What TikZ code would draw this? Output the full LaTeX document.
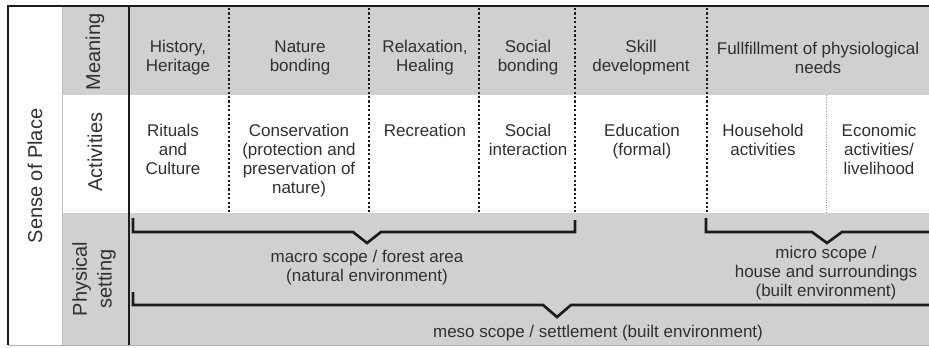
\documentclass[tikz,border=0pt]{standalone}
\usepackage{fontspec}
\setmainfont{Liberation Sans}
\definecolor{cellgray}{RGB}{208,208,208}
\definecolor{inkgray}{RGB}{48,48,48}
\definecolor{rulegray}{RGB}{28,28,28}
\tikzset{every picture/.style={line width=0.75pt}}
\tikzset{
  lbl/.style={inner sep=0.75pt, align=center, text=inkgray, font=\fontsize{12.75}{14.25}\selectfont},
  sidelbl/.style={lbl, rotate=90, font=\fontsize{15}{18.5}\selectfont},
  sepline/.style={draw=rulegray, line width=2pt, dash pattern={on 1.6pt off 1.7pt}},
  scopeline/.style={draw=rulegray, line width=2pt},
}
\begin{document}
\begin{tikzpicture}[x=0.75pt,y=0.75pt,yscale=-1,xscale=1]
\useasboundingbox (0,0) rectangle (929,347);

%Shape: Rows (gray bands)
\fill [cellgray] (62,6) rectangle (929,95);
\fill [cellgray] (62,213) rectangle (929,345);
\draw [color=gray!50, line width=0.4pt] (62,6) -- (62,345);
\draw [color=gray!60, line width=0.6pt] (8,345.5) -- (929,345.5);

%Shape: Frame
\draw [color=rulegray, line width=2pt] (8,345) -- (8,6) -- (929,6);
\draw [color=rulegray, line width=1.6pt] (129,6) -- (129,345);

%Dotted separators
\foreach \x in {229,369,479,575,707}
  \draw [sepline] (\x,8) -- (\x,212);
\draw [color=gray!70, line width=0.5pt, dash pattern={on 0.75pt off 1pt}] (826,95) -- (826,213);

%Scope brackets
\draw [scopeline] (133,218) -- (133,232) -- (353,232) -- (367,243) -- (381,232) -- (575,232) -- (575,220);
\draw [scopeline] (706,218) -- (706,232) -- (812,232) -- (827,243) -- (842,232) -- (929,232);
\draw [scopeline] (133,292) -- (133,305) -- (543,305) -- (557,317) -- (571,305) -- (929,305);

% Side labels
\node [sidelbl] (sense) at (35,176) {Sense of Place};
\node [sidelbl] (meaning) at (95,52) {Meaning};
\node [sidelbl] (activities) at (95,152) {Activities};
\node [sidelbl] (physical) at (94,279) {Physical\\setting};

% Meaning row
\node [lbl] (history) at (178,58) {History,\\Heritage};
\node [lbl] (nature) at (300,58) {Nature\\bonding};
\node [lbl] (relax) at (425,58) {Relaxation,\\Healing};
\node [lbl] (socialb) at (528,58) {Social\\bonding};
\node [lbl] (skill) at (641,58) {Skill\\development};
\node [lbl] (needs) at (818,58) {Fullfillment of physiological\\needs};

% Activities row
\node [lbl, anchor=north] (rituals) at (173,123) {Rituals\\and\\Culture};
\node [lbl, anchor=north] (conserv) at (299,123) {Conservation\\(protection and\\preservation of\\nature)};
\node [lbl, anchor=north] (recreation) at (425,123) {Recreation};
\node [lbl, anchor=north] (socialint) at (528,123) {Social\\interaction};
\node [lbl, anchor=north] (education) at (642,123) {Education\\(formal)};
\node [lbl, anchor=north] (household) at (763,123) {Household\\activities};
\node [lbl, anchor=north] (economic) at (879,123) {Economic\\activities/\\livelihood};

% Physical setting row
\node [lbl] (macro) at (367,268) {macro scope / forest area\\(natural environment)};
\node [lbl] (micro) at (826,273) {micro scope /\\house and surroundings\\(built environment)};
\node [lbl] (meso) at (598,333) {meso scope / settlement (built environment)};

\end{tikzpicture}
\end{document}
